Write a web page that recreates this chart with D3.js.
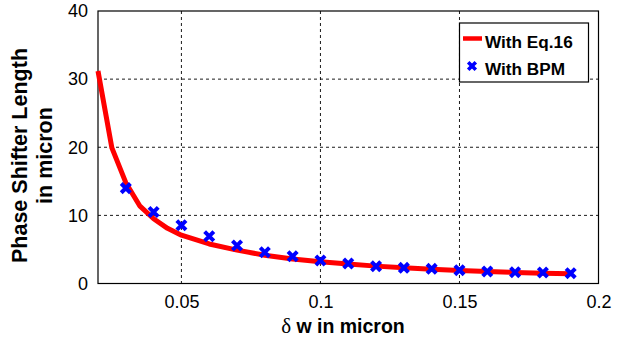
<!DOCTYPE html>
<html><head><meta charset="utf-8">
<script src="https://cdn.jsdelivr.net/npm/d3@7/dist/d3.min.js"></script>
<style>body{margin:0;background:#fff}svg{display:block}</style>
</head><body><svg id="c" width="620" height="338"></svg>
<script>
const curveX = [0.02,0.025,0.03,0.035,0.04,0.045,0.05,0.06,0.07,0.08,0.09,0.1,0.11,0.12,0.13,0.14,0.15,0.16,0.17,0.18,0.19];
const curveY = [31.2,19.9,14.8,11.4,9.5,8.1,7.1,5.8,4.9,4.15,3.6,3.2,2.85,2.55,2.3,2.1,1.9,1.75,1.62,1.52,1.42];
const bpmX = [0.03,0.04,0.05,0.06,0.07,0.08,0.09,0.1,0.11,0.12,0.13,0.14,0.15,0.16,0.17,0.18,0.19];
const bpmY = [14.0,10.5,8.55,6.93,5.57,4.59,4.0,3.37,2.93,2.54,2.3,2.15,1.96,1.76,1.66,1.61,1.52];
const xTicks = [0.05,0.1,0.15,0.2];
const xTickLabels = ["0.05","0.1","0.15","0.2"];
const yTicks = [0,10,20,30,40];
const legendLabels = ["With Eq.16","With BPM"];

const svg = d3.select("#c");
const L=98,R=598.5,T=11,B=283.5;
const x = d3.scaleLinear().domain([0.02,0.2]).range([L,R]);
const y = d3.scaleLinear().domain([0,40]).range([B,T]);
const font = "'Liberation Sans', Arial, sans-serif";

// grid
const g = svg.append("g");
g.selectAll(".gx").data(xTicks.filter(d=>d<0.2)).enter().append("line")
 .attr("x1",d=>x(d)).attr("x2",d=>x(d)).attr("y1",T).attr("y2",B)
 .attr("stroke","#000").attr("stroke-width",0.9).attr("stroke-dasharray","3,3");
g.selectAll(".gy").data(yTicks.filter(d=>d>0&&d<40)).enter().append("line")
 .attr("y1",d=>y(d)).attr("y2",d=>y(d)).attr("x1",L).attr("x2",R)
 .attr("stroke","#000").attr("stroke-width",0.9).attr("stroke-dasharray","3,3");

// axes
const xa = svg.append("g").attr("transform",`translate(0,${B})`)
 .call(d3.axisBottom(x).tickValues(xTicks).tickFormat((d,i)=>xTickLabels[i]).tickSize(0).tickPadding(12));
const ya = svg.append("g").attr("transform",`translate(${L},0)`)
 .call(d3.axisLeft(y).tickValues(yTicks).tickSize(0).tickPadding(10));
[xa,ya].forEach(a=>{a.select(".domain").remove();a.selectAll("text").attr("font-family",font).attr("font-size",18).attr("fill","#000");});

svg.append("rect").attr("x",L).attr("y",T).attr("width",R-L).attr("height",B-T)
 .attr("fill","none").attr("stroke","#000").attr("stroke-width",1.2);

// curve
const pts = curveX.map((d,i)=>[d,curveY[i]]);
svg.append("path").datum(pts)
 .attr("d",d3.line().x(d=>x(d[0])).y(d=>y(d[1])))
 .attr("fill","none").attr("stroke","#ff0000").attr("stroke-width",5).attr("stroke-linejoin","round");

// markers
const cross = (s)=>`M${-s},${-s}L${s},${s}M${-s},${s}L${s},${-s}`;
svg.append("g").selectAll("path").data(bpmX.map((d,i)=>[d,bpmY[i]])).enter().append("path")
 .attr("transform",d=>`translate(${x(d[0])},${y(d[1])})`)
 .attr("d",cross(4.6)).attr("stroke","#0000ff").attr("stroke-width",4).attr("fill","none");

// legend
const lg = svg.append("g");
lg.append("rect").attr("x",459.5).attr("y",23).attr("width",129).attr("height",59)
 .attr("fill","#fff").attr("stroke","#000").attr("stroke-width",1.2);
lg.append("line").attr("x1",463).attr("x2",482).attr("y1",38.5).attr("y2",38.5).attr("stroke","#ff0000").attr("stroke-width",4.5);
lg.append("path").attr("transform","translate(472,66)").attr("d",cross(3.8)).attr("stroke","#0000ff").attr("stroke-width",3.6);
lg.selectAll("text").data(legendLabels).enter().append("text")
 .attr("x",485).attr("y",(d,i)=>47.5+i*27.5).text(d=>d)
 .attr("font-family",font).attr("font-size",17.2).attr("font-weight","bold").attr("fill","#000");

// y label
const yl = svg.append("text").attr("font-family",font).attr("font-size",21.5).attr("font-weight","bold").attr("text-anchor","middle");
yl.append("tspan").attr("x",-155.5).attr("y",27).text("Phase Shifter Length");
yl.append("tspan").attr("x",-155.5).attr("y",52).text("in micron");
yl.attr("transform","rotate(-90)");

// x label
const xl = svg.append("text").attr("x",343).attr("y",333).attr("text-anchor","middle").attr("font-size",19.5);
xl.append("tspan").attr("font-family","'Liberation Serif', 'DejaVu Serif', serif").attr("font-size",21).text("δ ");
xl.append("tspan").attr("font-family",font).attr("font-weight","bold").text("w in micron");
</script></body></html>
